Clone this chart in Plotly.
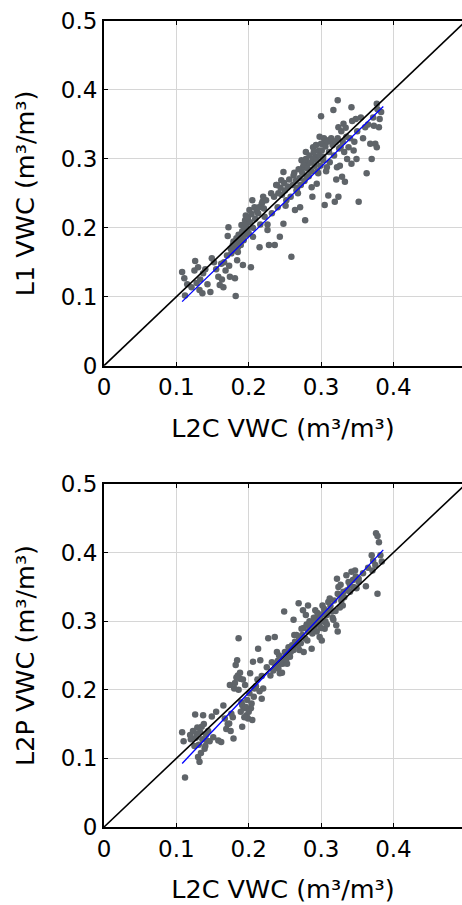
import plotly.graph_objects as go

# ---------------- data ----------------
top_x = [0.108,0.111,0.112,0.121,0.126,0.130,0.132,0.136,0.137,0.147,0.149,0.158,0.160,0.162,0.165,
         0.172,0.171,0.174,0.176,0.179,0.181,0.182,0.184,0.185,0.188,0.190,0.192,0.195,0.196,0.198,
         0.201,0.203,0.205,0.206,0.208,0.213,0.215,0.218,0.220,0.222,0.226,0.228,0.232,0.236,0.239,
         0.241,0.243,0.245,0.248,0.248,0.250,0.252,0.259,0.262,0.264,0.266,0.268,0.271,0.273,0.275,
         0.278,0.279,0.280,0.282,0.285,0.287,0.288,0.289,0.292,0.294,0.296,0.298,0.300,0.302,0.303,
         0.305,0.308,0.310,0.310,0.315,0.317,0.319,0.322,0.323,0.324,0.324,0.327,0.329,0.331,0.333,
         0.335,0.338,0.342,0.342,0.345,0.348,0.349,0.352,0.363,0.361,0.368,0.370,0.373,0.375,0.377,
         0.377,0.380,0.381,
         0.175,0.178,0.180,0.182,0.183,0.185,0.186,0.187,0.189,0.190,0.191,0.193,0.194,0.196,0.197,
         0.199,0.200,0.202,0.204,0.206,0.209,0.211,0.214,0.216,0.219,0.221,0.224,0.226,
         0.115,0.125,0.128,0.133,0.140,0.143,0.152,0.155,0.163,0.166,0.168,0.170,0.173,
         0.231,0.235,0.238,0.240,0.244,0.246,0.249,0.251,0.254,0.256,0.258,0.261,0.263,0.265,0.267,
         0.269,0.270,0.272,
         0.274,0.276,0.277,0.279,0.281,0.283,0.284,0.286,0.287,0.289,0.290,0.291,0.293,0.294,0.295,
         0.297,0.298,0.299,0.300,0.301,0.303,0.304,0.306,0.307,0.309,0.311,0.312,0.314,0.316,0.318,
         0.320,0.321,0.323,0.325,0.326,0.328,0.330,0.332,0.334,0.336,0.340,0.343,0.346,0.350,0.355,
         0.358,0.365,0.372,0.378,0.383]
top_y = [0.136,0.127,0.102,0.114,0.152,0.143,0.110,0.105,0.134,0.107,0.156,0.129,0.117,0.148,0.114,
         0.201,0.188,0.129,0.163,0.180,0.127,0.101,0.153,0.172,0.187,0.204,0.146,0.211,0.218,0.197,
         0.226,0.143,0.240,0.187,0.230,0.221,0.172,0.235,0.245,0.216,0.197,0.175,0.221,0.175,0.262,
         0.250,0.187,0.269,0.281,0.206,0.254,0.240,0.158,0.276,0.226,0.254,0.250,0.230,0.298,0.288,
         0.211,0.310,0.274,0.293,0.284,0.259,0.245,0.317,0.303,0.264,0.279,0.332,0.362,0.322,0.303,
         0.233,0.288,0.327,0.247,0.327,0.371,0.238,0.288,0.385,0.346,0.245,0.317,0.274,0.351,0.267,
         0.332,0.317,0.375,0.293,0.312,0.358,0.300,0.238,0.279,0.346,0.322,0.300,0.348,0.322,0.380,
         0.317,0.346,0.358,
         0.170,0.175,0.168,0.178,0.185,0.165,0.190,0.180,0.175,0.185,0.195,0.182,0.200,0.190,0.205,
         0.215,0.192,0.208,0.220,0.200,0.213,0.225,0.230,0.205,0.238,0.228,0.240,0.205,
         0.118,0.138,0.120,0.125,0.140,0.118,0.150,0.140,0.125,0.150,0.138,0.160,0.145,
         0.250,0.245,0.262,0.230,0.258,0.248,0.265,0.232,0.260,0.270,0.245,0.262,0.280,0.268,0.258,
         0.285,0.272,0.262,
         0.280,0.292,0.268,0.300,0.286,0.275,0.305,0.295,0.282,0.300,0.310,0.290,0.320,0.298,0.282,
         0.312,0.305,0.290,0.322,0.312,0.298,0.330,0.318,0.282,0.325,0.310,0.295,0.330,0.320,0.305,
         0.325,0.270,0.330,0.315,0.290,0.340,0.325,0.310,0.345,0.300,0.330,0.355,0.325,0.340,0.360,
         0.330,0.350,0.360,0.372,0.368]

bot_x = [0.108,0.110,0.112,0.119,0.126,0.128,0.130,0.132,0.135,0.137,0.139,0.142,0.149,0.151,0.155,
         0.158,0.162,0.165,0.167,0.169,0.173,0.174,0.176,0.179,0.180,0.182,0.184,0.185,0.186,0.188,
         0.190,0.191,0.193,0.195,0.197,0.199,0.202,0.203,0.205,0.206,0.208,0.213,0.216,0.218,0.220,
         0.225,0.227,0.230,0.236,0.239,0.241,0.243,0.247,0.249,0.251,0.253,0.257,0.262,0.263,0.266,
         0.269,0.270,0.273,0.275,0.276,0.279,0.281,0.282,0.285,0.287,0.289,0.292,0.294,0.296,0.298,
         0.301,0.302,0.304,0.305,0.308,0.310,0.312,0.315,0.317,0.321,0.322,0.323,0.324,0.325,0.327,
         0.330,0.331,0.335,0.338,0.340,0.342,0.345,0.347,0.349,0.352,0.362,0.370,0.371,0.375,0.376,
         0.378,0.380,0.378,0.382,0.384,
         0.120,0.123,0.125,0.127,0.129,0.131,0.133,0.134,0.136,0.138,0.140,0.141,0.144,0.146,
         0.171,0.175,0.178,0.181,0.183,0.186,0.188,0.189,0.191,0.192,0.194,0.196,0.198,0.200,0.201,
         0.204,0.207,0.210,0.212,0.215,0.218,
         0.232,0.234,0.237,0.240,0.242,0.244,0.246,0.248,0.250,0.252,0.255,0.258,0.260,0.262,0.264,
         0.266,0.268,0.270,0.272,0.274,
         0.276,0.278,0.280,0.282,0.284,0.286,0.288,0.290,0.291,0.293,0.295,0.297,0.299,0.300,0.302,
         0.304,0.306,0.308,0.310,0.313,0.316,0.318,0.320,0.323,0.326,0.328,0.332,0.336,0.340,0.344,
         0.348,0.352,0.358,0.365,0.372]
bot_y = [0.138,0.125,0.072,0.134,0.164,0.136,0.102,0.095,0.146,0.163,0.114,0.126,0.161,0.131,0.168,
         0.126,0.124,0.177,0.158,0.143,0.151,0.207,0.165,0.129,0.202,0.236,0.243,0.221,0.275,0.216,
         0.182,0.146,0.173,0.207,0.163,0.158,0.224,0.173,0.156,0.241,0.202,0.260,0.243,0.187,0.202,
         0.233,0.275,0.221,0.277,0.255,0.231,0.224,0.238,0.314,0.250,0.238,0.248,0.302,0.280,0.265,
         0.326,0.258,0.289,0.316,0.255,0.309,0.272,0.323,0.290,0.260,0.297,0.316,0.285,0.304,0.277,
         0.272,0.323,0.299,0.289,0.309,0.328,0.333,0.314,0.302,0.294,0.362,0.285,0.350,0.338,0.353,
         0.323,0.343,0.367,0.357,0.343,0.372,0.350,0.374,0.348,0.357,0.351,0.396,0.374,0.382,0.428,
         0.424,0.415,0.340,0.396,0.387,
         0.128,0.140,0.118,0.130,0.145,0.120,0.138,0.108,0.128,0.150,0.118,0.135,0.140,0.125,
         0.150,0.140,0.160,0.210,0.218,0.200,0.225,0.168,0.178,0.215,0.160,0.175,0.185,0.168,0.195,
         0.180,0.190,0.205,0.215,0.198,0.220,
         0.240,0.228,0.235,0.242,0.250,0.238,0.225,0.245,0.255,0.245,0.262,0.255,0.265,0.258,0.270,
         0.280,0.265,0.275,0.268,0.280,
         0.290,0.275,0.295,0.285,0.300,0.292,0.282,0.305,0.290,0.300,0.312,0.295,0.305,0.290,0.310,
         0.318,0.300,0.295,0.315,0.322,0.305,0.330,0.315,0.340,0.320,0.330,0.335,0.345,0.352,0.360,
         0.365,0.362,0.370,0.378,0.388]

fit_x = [0.108, 0.386]
fit_top_y = [0.093, 0.376]
fit_bot_y = [0.0925, 0.404]
one_to_one = [0.0, 0.5]

x_ticks = [0, 0.1, 0.2, 0.3, 0.4]
x_tick_text = ["0", "0.1", "0.2", "0.3", "0.4"]
y_ticks = [0, 0.1, 0.2, 0.3, 0.4, 0.5]
y_tick_text = ["0", "0.1", "0.2", "0.3", "0.4", "0.5"]

x_title = "L2C VWC (m³/m³)"
top_y_title = "L1 VWC (m³/m³)"
bot_y_title = "L2P VWC (m³/m³)"

# ---------------- figure ----------------
FONT = "DejaVu Sans"
PT_COLOR = "#5f6469"
TICK_SIZE = 23
TITLE_SIZE = 25.5

fig = go.Figure()

def add_panel(xs, ys, fy, xa, ya):
    fig.add_trace(go.Scatter(x=xs, y=ys, mode="markers", xaxis=xa, yaxis=ya,
                             marker=dict(size=6.5, color=PT_COLOR), showlegend=False,
                             hoverinfo="skip"))
    fig.add_trace(go.Scatter(x=one_to_one, y=one_to_one, mode="lines", xaxis=xa, yaxis=ya,
                             line=dict(color="black", width=1.6), showlegend=False))
    fig.add_trace(go.Scatter(x=fit_x, y=fy, mode="lines", xaxis=xa, yaxis=ya,
                             line=dict(color="#0000ff", width=1.3), showlegend=False))

add_panel(top_x, top_y, fit_top_y, "x", "y")
add_panel(bot_x, bot_y, fit_bot_y, "x2", "y2")

xaxis_common = dict(range=[0, 0.4948], tickvals=x_ticks, ticktext=x_tick_text,
                    showgrid=True, gridcolor="#d6d6d6", gridwidth=1,
                    showline=True, linecolor="black", linewidth=2, mirror="ticks",
                    ticks="inside", ticklen=4, tickcolor="black",
                    tickfont=dict(family=FONT, size=TICK_SIZE, color="black"),
                    zeroline=False, fixedrange=True, automargin=False,
                    title=dict(text=x_title, font=dict(family=FONT, size=TITLE_SIZE, color="black"),
                               standoff=20))
yaxis_common = dict(range=[0, 0.5], tickvals=y_ticks, ticktext=y_tick_text,
                    showgrid=True, gridcolor="#d6d6d6", gridwidth=1,
                    showline=True, linecolor="black", linewidth=2, mirror=False,
                    ticks="inside", ticklen=4, tickcolor="black",
                    tickfont=dict(family=FONT, size=TICK_SIZE, color="black"),
                    zeroline=False, fixedrange=True, automargin=False)

fig.update_layout(
    width=462, height=905,
    margin=dict(l=104, r=0, t=21, b=78),
    paper_bgcolor="white", plot_bgcolor="white",
    font=dict(family=FONT, color="black"),
    xaxis=dict(**xaxis_common, domain=[0, 1], anchor="y"),
    yaxis=dict(**yaxis_common, domain=[0.5723, 1], anchor="x",
               title=dict(text=top_y_title, font=dict(family=FONT, size=TITLE_SIZE, color="black"),
                          standoff=19)),
    xaxis2=dict(**xaxis_common, domain=[0, 1], anchor="y2"),
    yaxis2=dict(**yaxis_common, domain=[0, 0.4256], anchor="x2",
                title=dict(text=bot_y_title, font=dict(family=FONT, size=TITLE_SIZE, color="black"),
                           standoff=19)),
)

fig.write_html("out.html", config={"displayModeBar": False},
               post_script="document.body.style.margin='0px';document.body.style.overflow='hidden';")
